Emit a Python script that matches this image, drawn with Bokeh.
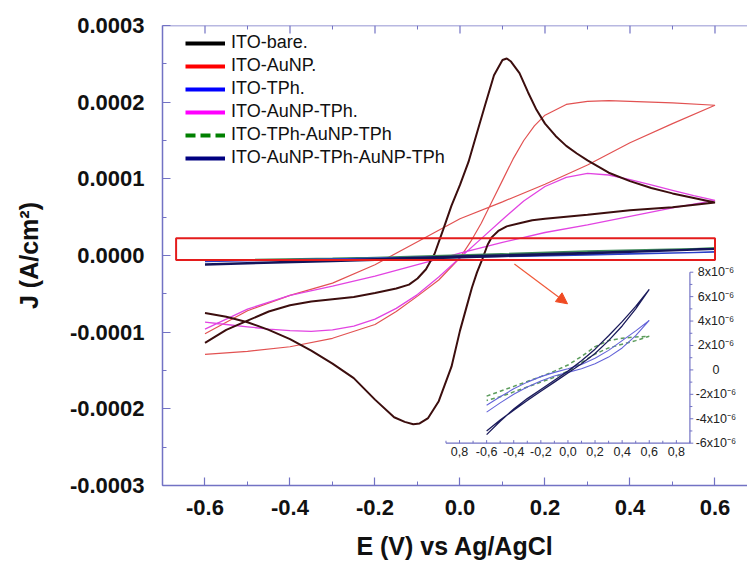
from bokeh.plotting import figure
from bokeh.models import (Range1d, FixedTicker, NumeralTickFormatter, Legend, Span,
                          LegendItem, BoxAnnotation, Arrow, NormalHead)
from bokeh.core.properties import value
from bokeh.embed import file_html
from bokeh.resources import INLINE

FONT = "Liberation Sans"
AXIS_COLOR = "#7272c4"
NAN = float("nan")

# ---------------- main axes ----------------
x_ticks = [-0.6, -0.4, -0.2, 0.0, 0.2, 0.4, 0.6]
x_minor = [-0.7, -0.5, -0.3, -0.1, 0.1, 0.3, 0.5]
y_ticks = [-0.0003, -0.0002, -0.0001, 0.0, 0.0001, 0.0002, 0.0003]
y_minor = [-0.00025, -0.00015, -0.00005, 0.00005, 0.00015, 0.00025]

# ---------------- main data (J in units of 1e-4 A/cm2) ----------------
E_bare = [-0.6, -0.55, -0.5, -0.45, -0.4, -0.35, -0.3, -0.25, -0.2, -0.15, -0.12, -0.1, -0.08,
          -0.06, -0.04, -0.02, 0.0, 0.02, 0.04, 0.06, 0.08, 0.1, 0.11, 0.12, 0.14, 0.16, 0.18,
          0.2, 0.225, 0.25, 0.275, 0.3, 0.35, 0.4, 0.45, 0.5, 0.55, 0.6,
          0.5, 0.4, 0.3, 0.2, 0.17, 0.14, 0.11, 0.09, 0.075, 0.065, 0.053, 0.04, 0.028, 0.015,
          0.0, -0.02, -0.05, -0.075, -0.095, -0.11, -0.13, -0.155, -0.2, -0.25, -0.3, -0.35,
          -0.4, -0.45, -0.5, -0.55, -0.6]
J_bare = [-1.14, -0.97, -0.85, -0.73, -0.65, -0.60, -0.57, -0.54, -0.49, -0.43, -0.38, -0.30, -0.18,
          0.02, 0.33, 0.65, 0.92, 1.22, 1.60, 1.98, 2.35, 2.55, 2.57, 2.53, 2.38, 2.13, 1.90,
          1.72, 1.56, 1.43, 1.33, 1.24, 1.08, 0.97, 0.88, 0.81, 0.75, 0.69,
          0.63, 0.59, 0.53, 0.48, 0.46, 0.42, 0.38, 0.32, 0.24, 0.14, -0.04, -0.22, -0.42, -0.68,
          -0.98, -1.45, -1.90, -2.12, -2.19, -2.20, -2.17, -2.11, -1.88, -1.60, -1.41, -1.24,
          -1.09, -0.97, -0.87, -0.80, -0.75]

E_aunp = [-0.6, -0.5, -0.4, -0.3, -0.2, -0.15, -0.1, -0.05, 0.0, 0.025, 0.05, 0.075, 0.1, 0.125,
          0.15, 0.175, 0.2, 0.25, 0.3, 0.35, 0.4, 0.5, 0.6,
          0.5, 0.4, 0.3, 0.2, 0.1, 0.0, -0.1, -0.2, -0.3, -0.4, -0.5, -0.6]
J_aunp = [-1.29, -1.25, -1.19, -1.08, -0.90, -0.73, -0.53, -0.32, -0.03, 0.18, 0.42, 0.70, 0.98,
          1.26, 1.50, 1.69, 1.83, 1.97, 2.01, 2.02, 2.01, 1.99, 1.96,
          1.72, 1.47, 1.18, 0.93, 0.70, 0.48, 0.18, -0.12, -0.36, -0.52, -0.72, -1.02]

E_aunp_tph = [-0.6, -0.55, -0.5, -0.45, -0.4, -0.35, -0.3, -0.25, -0.2, -0.15, -0.1, -0.05, 0.0,
              0.05, 0.1, 0.15, 0.2, 0.25, 0.3, 0.35, 0.4, 0.45, 0.5, 0.55, 0.6,
              0.5, 0.4, 0.3, 0.2, 0.1, 0.0, -0.1, -0.2, -0.3, -0.4, -0.5, -0.6]
J_aunp_tph = [-0.87, -0.90, -0.93, -0.96, -0.98, -0.99, -0.97, -0.92, -0.83, -0.69, -0.51, -0.28,
              -0.03, 0.22, 0.47, 0.71, 0.90, 1.02, 1.07, 1.05, 0.99, 0.92, 0.85, 0.78, 0.72,
              0.62, 0.51, 0.40, 0.30, 0.17, 0.03, -0.12, -0.27, -0.40, -0.52, -0.70, -0.96]

# near-zero curves in the main panel (J in units of 1e-5 A/cm2)
E_small = [-0.6, -0.3, 0.0, 0.3, 0.6, 0.3, 0.0, -0.3, -0.6]
J_tph_main = [-0.70, -0.45, -0.10, 0.15, 0.45, 0.05, -0.25, -0.50, -0.80]
J_tph_aunp_tph_main = [-0.60, -0.35, 0.00, 0.50, 0.95, 0.60, 0.10, -0.40, -0.65]
J_multi_main = [-1.15, -0.65, -0.10, 0.35, 0.85, 0.25, -0.25, -0.75, -1.20]

# ---------------- inset data (J in units of 1e-6) ----------------
inset_x_ticks = [-0.8, -0.6, -0.4, -0.2, 0.0, 0.2, 0.4, 0.6, 0.8]
inset_x_labels = ["0,8", "-0,6", "-0,4", "-0,2", "0,0", "0,2", "0,4", "0,6", "0,8"]
inset_x_minor = [-0.9, -0.7, -0.5, -0.3, -0.1, 0.1, 0.3, 0.5, 0.7, 0.9]
inset_y_ticks = [-6e-6, -4e-6, -2e-6, 0.0, 2e-6, 4e-6, 6e-6, 8e-6]
inset_y_labels = ["-6x10\u207b\u2076", "-4x10\u207b\u2076", "-2x10\u207b\u2076", "0",
                  "2x10\u207b\u2076", "4x10\u207b\u2076", "6x10\u207b\u2076", "8x10\u207b\u2076"]
inset_y_minor = [-5e-6, -3e-6, -1e-6, 1e-6, 3e-6, 5e-6, 7e-6]

E_in = [-0.6, -0.5, -0.4, -0.3, -0.2, -0.1, 0.0, 0.1, 0.2, 0.3, 0.4, 0.5, 0.6,
        0.5, 0.4, 0.3, 0.2, 0.1, 0.0, -0.1, -0.2, -0.3, -0.4, -0.5, -0.6]
J_in_multi = [-5.3, -4.2, -3.2, -2.35, -1.6, -0.85, -0.1, 0.75, 1.7, 2.8, 3.95, 5.2, 6.6,
              5.0, 3.6, 2.4, 1.35, 0.5, -0.25, -1.0, -1.75, -2.5, -3.3, -4.1, -5.0]
J_in_tph = [-2.9, -2.2, -1.55, -1.0, -0.55, -0.2, 0.1, 0.45, 0.95, 1.6, 2.4, 3.2, 4.05,
            2.8, 1.8, 1.05, 0.5, 0.1, -0.2, -0.5, -0.9, -1.4, -2.0, -2.7, -3.46]
J_in_tph_aunp_tph = [-2.15, -1.75, -1.35, -0.95, -0.55, -0.1, 0.4, 1.1, 1.9, 2.4, 2.6, 2.7, 2.75,
                     2.4, 2.1, 1.8, 1.3, 0.6, -0.1, -0.6, -1.0, -1.4, -1.8, -2.2, -2.5]

legend_names = ["ITO-bare.", "ITO-AuNP.", "ITO-TPh.", "ITO-AuNP-TPh.",
                "ITO-TPh-AuNP-TPh", "ITO-AuNP-TPh-AuNP-TPh"]
legend_colors = ["#000000", "#ff0000", "#0000ff", "#ff00ff", "#008000", "#000080"]
legend_dashes = ["solid", "solid", "solid", "solid", "10 5", "solid"]


def e4(vals):
    return [v * 1e-4 for v in vals]


def e5(vals):
    return [v * 1e-5 for v in vals]


def e6(vals):
    return [v * 1e-6 for v in vals]


y_lo, y_hi = -0.0003, 0.0003
p = figure(width=747, height=563, x_range=Range1d(-0.7, 0.6765), y_range=Range1d(y_lo, y_hi),
           output_backend="svg", toolbar_location=None,
           min_border_left=162, min_border_right=0, min_border_top=25, min_border_bottom=78,
           x_axis_label="E (V) vs Ag/AgCl", y_axis_label="J (A/cm\u00b2)")
p.outline_line_color = None
p.grid.visible = False
p.background_fill_color = "white"
p.border_fill_color = "white"

for ax, ticks, minor, fmt in ((p.xaxis[0], x_ticks, x_minor, "0.0"),
                              (p.yaxis[0], y_ticks, y_minor, "0.0000")):
    ax.ticker = FixedTicker(ticks=ticks, minor_ticks=minor)
    ax.formatter = NumeralTickFormatter(format=fmt)
    ax.axis_line_color = AXIS_COLOR
    ax.axis_line_width = 1.5
    ax.major_tick_line_color = AXIS_COLOR
    ax.minor_tick_line_color = AXIS_COLOR
    ax.major_tick_line_width = 1.2
    ax.major_tick_in = 8
    ax.major_tick_out = 0
    ax.minor_tick_in = 4
    ax.minor_tick_out = 0
    ax.major_label_text_font = FONT
    ax.major_label_text_font_style = "bold"
    ax.major_label_text_font_size = "22px"
    ax.major_label_text_color = "#111111"
    ax.axis_label_text_font = FONT
    ax.axis_label_text_font_style = "bold"
    ax.axis_label_text_font_size = "25px"
    ax.axis_label_text_color = "#111111"

p.xaxis[0].major_label_standoff = 14
p.xaxis[0].axis_label_standoff = 14
p.yaxis[0].major_label_standoff = 18
p.yaxis[0].axis_label_standoff = 24

# top frame line with inward ticks
p.add_layout(Span(location=y_hi, dimension="width", line_color=AXIS_COLOR, line_width=1.5))
tick_major = (y_hi - y_lo) * 8 / 460
tick_minor = (y_hi - y_lo) * 4 / 460
p.segment(x0=x_ticks, y0=[y_hi] * len(x_ticks), x1=x_ticks, y1=[y_hi - tick_major] * len(x_ticks),
          line_color=AXIS_COLOR, line_width=1.2)
p.segment(x0=x_minor, y0=[y_hi] * len(x_minor), x1=x_minor, y1=[y_hi - tick_minor] * len(x_minor),
          line_color=AXIS_COLOR, line_width=1)

# main curves
p.line(E_aunp, e4(J_aunp), line_color="#e25252", line_width=1.2)
p.line(E_aunp_tph, e4(J_aunp_tph), line_color="#e244e2", line_width=1.3)
p.line(E_bare, e4(J_bare), line_color="#3c0e0e", line_width=2)
p.line(E_small, e5(J_tph_aunp_tph_main), line_color="#3f8a5a", line_width=1.2)
p.line(E_small, e5(J_tph_main), line_color="#2a40c8", line_width=1.2)
p.line(E_small, e5(J_multi_main), line_color="#14145a", line_width=2)

# highlight box and arrow
p.add_layout(BoxAnnotation(left=-0.668, right=0.6, bottom=-0.000006, top=0.0000225,
                           fill_alpha=0, line_color="#e41c1c", line_alpha=1.0, line_width=2))
p.add_layout(Arrow(end=NormalHead(size=11, fill_color="#f04a22", line_color="#f04a22"),
                   x_start=0.128, y_start=-0.000011, x_end=0.253, y_end=-0.000063,
                   line_color="#f05a3a", line_width=1.2))

# inset
ix0, ix1 = -0.9, 0.9
iy0, iy1 = -6e-6, 8e-6
inset = p.subplot(x_source=Range1d(ix0, ix1), y_source=Range1d(iy0, iy1),
                  x_target=Range1d(-0.033, 0.541), y_target=Range1d(-0.0002448, -0.0000218))
inset.line(E_in, e6(J_in_tph_aunp_tph), line_color="#5c9c5c", line_width=1.5, line_dash="4 3")
inset.line(E_in, e6(J_in_tph), line_color="#6464d8", line_width=1.1)
inset.line(E_in, e6(J_in_multi), line_color="#1c1c5c", line_width=1.3)

inset.segment(x0=[ix0, ix1], y0=[iy0, iy0], x1=[ix1, ix1], y1=[iy0, iy1],
              line_color=AXIS_COLOR, line_width=1.2)
inset.segment(x0=inset_x_ticks, y0=[iy0] * len(inset_x_ticks), x1=inset_x_ticks,
              y1=[iy0 + 0.25e-6] * len(inset_x_ticks), line_color=AXIS_COLOR, line_width=1)
inset.segment(x0=inset_x_minor, y0=[iy0] * len(inset_x_minor), x1=inset_x_minor,
              y1=[iy0 + 0.2e-6] * len(inset_x_minor), line_color=AXIS_COLOR, line_width=1)
inset.segment(x0=[ix1] * len(inset_y_ticks), y0=inset_y_ticks, x1=[ix1 + 0.025] * len(inset_y_ticks),
              y1=inset_y_ticks, line_color=AXIS_COLOR, line_width=1)
inset.segment(x0=[ix1] * len(inset_y_minor), y0=inset_y_minor, x1=[ix1 + 0.018] * len(inset_y_minor),
              y1=inset_y_minor, line_color=AXIS_COLOR, line_width=1)
inset.text(x=inset_x_ticks, y=[iy0] * len(inset_x_ticks), text=inset_x_labels,
           text_align="center", text_baseline="top", y_offset=4,
           text_font=value(FONT), text_font_size="12.5px", text_color="#222222")
inset.text(x=[ix1] * len(inset_y_ticks), y=inset_y_ticks, text=inset_y_labels,
           text_align="center", text_baseline="middle", x_offset=26,
           text_font=value(FONT), text_font_size="12.5px", text_color="#222222")

# legend with thick proxy lines (a single NaN point: drawn nowhere in the plot)
items = []
for name, color, dash in zip(legend_names, legend_colors, legend_dashes):
    r = p.line(x=[NAN], y=[NAN], line_color=color, line_width=4, line_dash=dash)
    items.append(LegendItem(label=name, renderers=[r]))
legend = Legend(items=items, location=(23, 317), glyph_width=40, glyph_height=20,
                label_height=20, label_standoff=6, spacing=2, padding=0, margin=0,
                border_line_color=None, background_fill_alpha=0,
                label_text_font=FONT, label_text_font_size="18px", label_text_color="#111111")
p.add_layout(legend)

open("out.html", "w").write(file_html(p, INLINE))
